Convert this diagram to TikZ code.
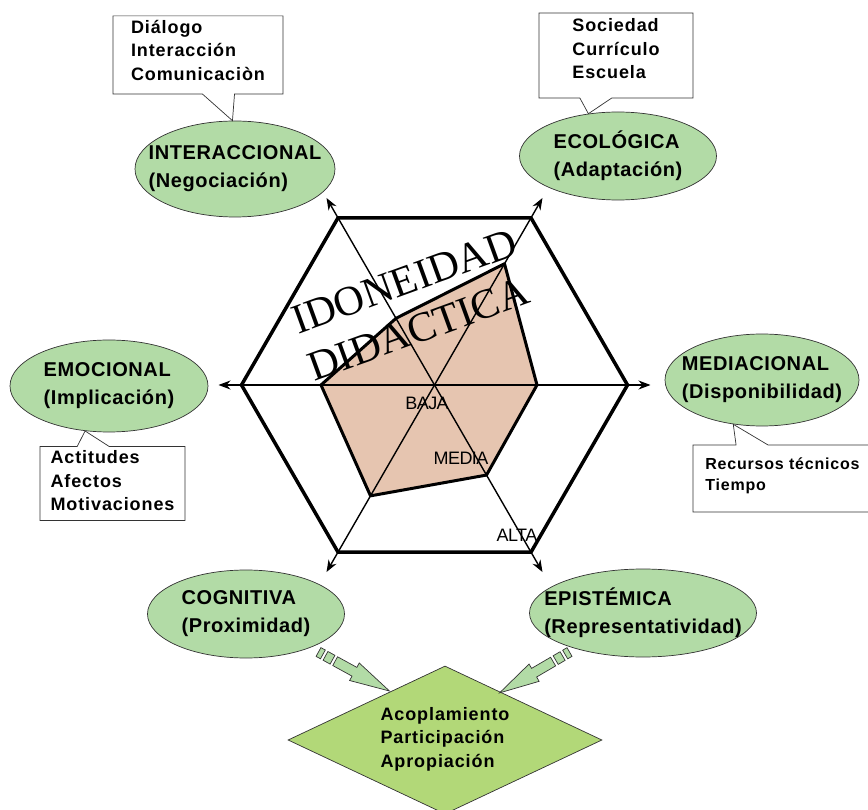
\documentclass[tikz,border=0pt]{standalone}
\usepackage{fontspec}
\setmainfont{Liberation Sans}
\newfontfamily\titlefont{Liberation Serif}
\newfontfamily\notefont[LetterSpace=5]{Liberation Sans}
\newfontfamily\dimfont[LetterSpace=3]{Liberation Sans}
\newfontfamily\gradefont[LetterSpace=-3]{Liberation Sans}
\usetikzlibrary{arrows.meta,shapes.geometric,shapes.callouts}
\definecolor{dimgreen}{RGB}{178,219,166}
\definecolor{diagreen}{RGB}{178,216,120}
\definecolor{radarfill}{RGB}{230,197,176}
\tikzset{
  dimnode/.style={ellipse, draw=black!80, line width=0.7pt, fill=dimgreen, inner xsep=-30pt, inner ysep=-10pt, align=left, font=\dimfont\bfseries\fontsize{20}{28}\selectfont},
  notebox/.style={rectangle callout, draw=black!80, line width=0.7pt, fill=white, inner sep=4pt, callout pointer width=32pt, align=left, font=\notefont\bfseries\fontsize{18}{23.5}\selectfont},
  gradetxt/.style={inner sep=0pt, font=\gradefont\fontsize{18}{18}\selectfont},
  titletxt/.style={inner sep=0pt, anchor=base, rotate=20, font=\titlefont\fontsize{42}{42}\selectfont},
  axis/.style={line width=1.4pt, -{Stealth[length=12pt,width=9pt]}},
  fatarrow/.style={fill=dimgreen, draw=black!80, line width=0.7pt},
}
% striped block arrow: start, angle
\newcommand{\stripedarrow}[2]{%
  \begin{scope}[shift={#1}, rotate=#2]
    \filldraw[fatarrow] (0,-5) rectangle (5,5);
    \filldraw[fatarrow] (8,-5) rectangle (16,5);
    \filldraw[fatarrow] (19,-5) -- (41,-5) -- (41,-10) -- (81,0) -- (41,10) -- (41,5) -- (19,5) -- cycle;
  \end{scope}}

\begin{document}
\begin{tikzpicture}[x=1pt,y=-1pt]
  \useasboundingbox (0,0) rectangle (868,810);
  \coordinate (O) at (434.5,385);

  % radar
  \begin{scope}[shift={(O)}]
    \fill[radarfill] (180:113.5) -- (240:77) -- (300:140) -- (0:102.5) -- (60:104) -- (120:128) -- cycle;
    \foreach \a in {0,60,...,300}
      \coordinate (ax\a) at (\a:216);
    \draw[line width=3pt, line join=round] (180:113.5) -- (240:77) -- (300:140) -- (0:102.5) -- (60:104) -- (120:128) -- cycle;
    \draw[line width=3.5pt, line join=miter] (0:193) \foreach \a in {60,120,...,300} { -- (\a:193) } -- cycle;
  \end{scope}
  \foreach \a in {0,60,...,300}
    \draw[axis] (O) -- (ax\a);

  \node[titletxt] (idon) at (409,294) {IDONEIDAD};
  \node[titletxt] (dida) at (423,342) {DIDACTICA};

  \node[gradetxt] (baja) at (427,403) {BAJA};
  \node[gradetxt] (media) at (461,458) {MEDIA};
  \node[gradetxt] (alta) at (517,535) {ALTA};

  % dimensions
  \node[dimnode, minimum width=200pt, minimum height=96pt] (inter) at (235,169) {INTERACCIONAL\\(Negociación)};
  \node[dimnode, minimum width=197pt, minimum height=88pt] (eco) at (618,156) {ECOLÓGICA\\(Adaptación)};
  \node[dimnode, minimum width=198pt, minimum height=92pt] (emo) at (109,386) {EMOCIONAL\\(Implicación)};
  \node[dimnode, minimum width=194pt, minimum height=92pt] (med) at (762,380) {MEDIACIONAL\\(Disponibilidad)};
  \node[dimnode, minimum width=197pt, minimum height=88pt] (cog) at (246,614) {COGNITIVA\\(Proximidad)};
  \node[dimnode, minimum width=227pt, minimum height=88pt] (epi) at (643,613) {EPISTÉMICA\\(Representatividad)};

  % notes
  \node[notebox, minimum width=170pt, minimum height=76pt, text depth=10pt, callout absolute pointer={(inter.93)}] (dia) at (198,55) {Diálogo\\Interacción\\Comunicaciòn};
  \node[notebox, minimum width=154pt, minimum height=85pt, text depth=14pt, callout absolute pointer={(eco.125)}] (soc) at (616,55.5) {Sociedad\\Currículo\\Escuela};
  \node[notebox, minimum width=145pt, minimum height=73pt, text depth=6pt, callout absolute pointer={(emo.242)}] (act) at (112.5,483.5) {Actitudes\\Afectos\\Motivaciones};
  \node[notebox, minimum width=179pt, minimum height=67pt, text depth=8pt, font=\notefont\bfseries\fontsize{16}{21}\selectfont, callout absolute pointer={(med.237)}] (rec) at (782.5,478.5) {Recursos técnicos\\Tiempo};

  % outcome
  \node[diamond, draw=black!80, line width=0.7pt, fill=diagreen, aspect=2.12, minimum width=314pt, minimum height=148pt, inner sep=0pt, text depth=6pt, align=left, font=\notefont\bfseries\fontsize{18}{23.5}\selectfont] (acop) at (445,740) {Acoplamiento\\Participación\\Apropiación};

  \coordinate (cogarr) at (318.5,652);
  \coordinate (epiarr) at (569.5,652);
  \stripedarrow{(cogarr)}{-28.8}
  \stripedarrow{(epiarr)}{-149.7}
\end{tikzpicture}
\end{document}
